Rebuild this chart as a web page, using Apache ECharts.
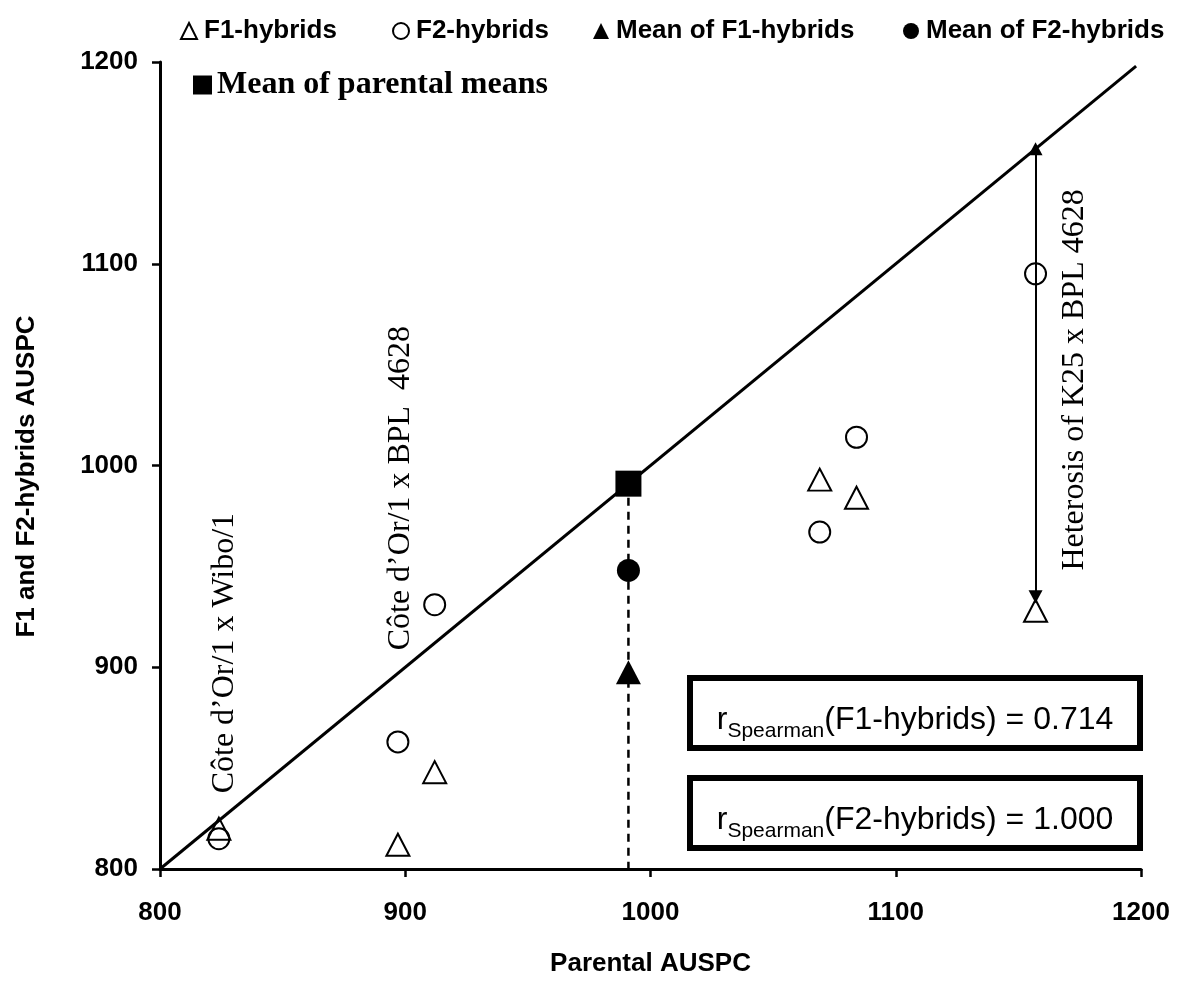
<!DOCTYPE html>
<html><head><meta charset="utf-8">
<script src="https://cdn.jsdelivr.net/npm/echarts@6/dist/echarts.min.js"></script>
<style>html,body{margin:0;padding:0;background:#fff}#c{width:1180px;height:987px}</style>
</head><body><div id="c"></div>
<script>
// ---- data ----
const parental = [824, 897, 912, 1069, 1084, 1157];
const f1Values = [820, 812, 848, 993, 984, 928];
const f2Values = [815, 863, 931, 967, 1014, 1095];
const meanParental = 991;
const meanF1 = 897.5;
const meanF2 = 948;
const axisMin = 800, axisMax = 1200, axisStep = 100;
const diagonalEnds = [800, 1198];
const heterosisX = 1157;
const heterosisY = [1157, 935];
const annotationTexts = ['Côte d’Or/1 x Wibo/1', 'Côte d’Or/1 x BPL  4628', 'Heterosis of K25 x BPL 4628'];
const annotationPos = [[826.5, 907], [898.3, 988.8], [1172.8, 1042.4]];
const spearmanGroups = ['F1-hybrids', 'F2-hybrids'];
const spearmanValues = ['0.714', '1.000'];
const legendNames = ['F1-hybrids', 'F2-hybrids', 'Mean of F1-hybrids', 'Mean of F2-hybrids'];
const legendName2 = 'Mean of parental means';

const SANS = 'Liberation Sans, Arial, sans-serif';
const SERIF = 'Liberation Serif, Times New Roman, serif';

const f1Data = parental.map((p, i) => [p, f1Values[i]]);
const f2Data = parental.map((p, i) => [p, f2Values[i]]);

const chart = echarts.init(document.getElementById('c'));

const boxTop = [678, 778];
const graphics = [];
spearmanGroups.forEach((g, i) => {
  graphics.push({
    type: 'rect', silent: true, z: 10,
    shape: { x: 690, y: boxTop[i], width: 450, height: 70 },
    style: { fill: '#fff', stroke: '#000', lineWidth: 6 }
  });
  graphics.push({
    type: 'text', silent: true, z: 11,
    x: 915, y: boxTop[i] + 42,
    style: {
      text: '{r|r}{s|Spearman}{n|(' + g + ') = ' + spearmanValues[i] + '}',
      align: 'center', verticalAlign: 'middle',
      rich: {
        r: { fontFamily: SANS, fontSize: 32, lineHeight: 44, verticalAlign: 'middle', fill: '#000' },
        s: { fontFamily: SANS, fontSize: 21, lineHeight: 22, verticalAlign: 'bottom', fill: '#000' },
        n: { fontFamily: SANS, fontSize: 32, lineHeight: 44, verticalAlign: 'middle', fill: '#000' }
      }
    }
  });
});

const openStyle = { color: 'rgba(0,0,0,0)', borderColor: '#000', borderWidth: 2, opacity: 1 };
const solidStyle = { color: '#000', opacity: 1 };
const legendLefts = [175, 387, 588, 898];

const legends = legendNames.map((n, i) => ({
  data: [{ name: n }],
  left: legendLefts[i], top: 13, itemWidth: 16, itemHeight: 16,
  selectedMode: false,
  textStyle: { fontFamily: SANS, fontWeight: 'bold', fontSize: 26, color: '#000', padding: [0, 0, 0, 2] }
}));
legends.push({
  data: [{ name: legendName2 }],
  left: 188, top: 64, itemWidth: 19, itemHeight: 19,
  selectedMode: false,
  textStyle: { fontFamily: SERIF, fontWeight: 'bold', fontSize: 32, color: '#000' }
});

const axisCommon = {
  type: 'value', min: axisMin, max: axisMax, interval: axisStep,
  nameLocation: 'middle',
  nameTextStyle: { fontFamily: SANS, fontWeight: 'bold', fontSize: 26, color: '#000' },
  axisLine: { show: true, onZero: false, lineStyle: { color: '#000', width: 3 } },
  axisTick: { show: true, inside: false, length: 8, lineStyle: { color: '#000', width: 2.5 } },
  splitLine: { show: false }
};

chart.setOption({
  animation: false,
  backgroundColor: '#fff',
  grid: { left: 160, right: 39, top: 62, bottom: 118 },
  legend: legends,
  xAxis: Object.assign({}, axisCommon, {
    name: 'Parental AUSPC', nameGap: 82,
    axisLabel: { fontFamily: SANS, fontWeight: 'bold', fontSize: 26, color: '#000', margin: 31, formatter: v => String(v) }
  }),
  yAxis: Object.assign({}, axisCommon, {
    name: 'F1 and F2-hybrids AUSPC', nameGap: 120, nameRotate: 90,
    nameTextStyle: { fontFamily: SANS, fontWeight: 'bold', fontSize: 26, color: '#000', padding: [0, 22, 0, 0] },
    axisLabel: { fontFamily: SANS, fontWeight: 'bold', fontSize: 26, color: '#000', margin: 22, formatter: v => String(v) }
  }),
  graphic: graphics,
  series: [
    {
      name: 'diagonal', type: 'line', silent: true, z: 1, showSymbol: false, symbol: 'none',
      data: [[diagonalEnds[0], diagonalEnds[0]], [diagonalEnds[1], diagonalEnds[1]]],
      lineStyle: { color: '#000', width: 3 }
    },
    {
      name: 'dashed', type: 'line', silent: true, z: 1, showSymbol: false, symbol: 'none',
      data: [[meanParental, meanParental], [meanParental, axisMin]],
      lineStyle: { color: '#000', width: 2.5, type: [8, 6] },
      markLine: {
        silent: true, symbol: ['triangle', 'triangle'], symbolSize: [14, 13],
        label: { show: false },
        lineStyle: { color: '#000', width: 2, type: 'solid', opacity: 1 },
        data: [[{ coord: [heterosisX, heterosisY[0]] }, { coord: [heterosisX, heterosisY[1]] }]]
      }
    },
    {
      name: 'F1-hybrids', type: 'scatter', z: 3, symbol: 'triangle', symbolSize: [23, 22],
      itemStyle: openStyle, data: f1Data
    },
    {
      name: 'F2-hybrids', type: 'scatter', z: 3, symbol: 'circle', symbolSize: 21,
      itemStyle: openStyle, data: f2Data
    },
    {
      name: 'Mean of F1-hybrids', type: 'scatter', z: 4, symbol: 'triangle', symbolSize: [25, 24],
      itemStyle: solidStyle, data: [[meanParental, meanF1]]
    },
    {
      name: 'Mean of F2-hybrids', type: 'scatter', z: 4, symbol: 'circle', symbolSize: 23,
      itemStyle: solidStyle, data: [[meanParental, meanF2]]
    },
    {
      name: 'Mean of parental means', type: 'scatter', z: 4, symbol: 'rect', symbolSize: 26,
      itemStyle: solidStyle, data: [[meanParental, meanParental]]
    },
    {
      name: 'annotations', type: 'scatter', z: 5, silent: true, symbolSize: 1,
      itemStyle: { color: 'rgba(0,0,0,0)', opacity: 1 },
      label: {
        show: true, position: 'inside', rotate: 90, formatter: '{b}',
        fontFamily: SERIF, fontSize: 32, color: '#000'
      },
      data: annotationTexts.map((t, i) => ({ name: t, value: annotationPos[i] }))
    }
  ]
});
</script>
</body></html>
